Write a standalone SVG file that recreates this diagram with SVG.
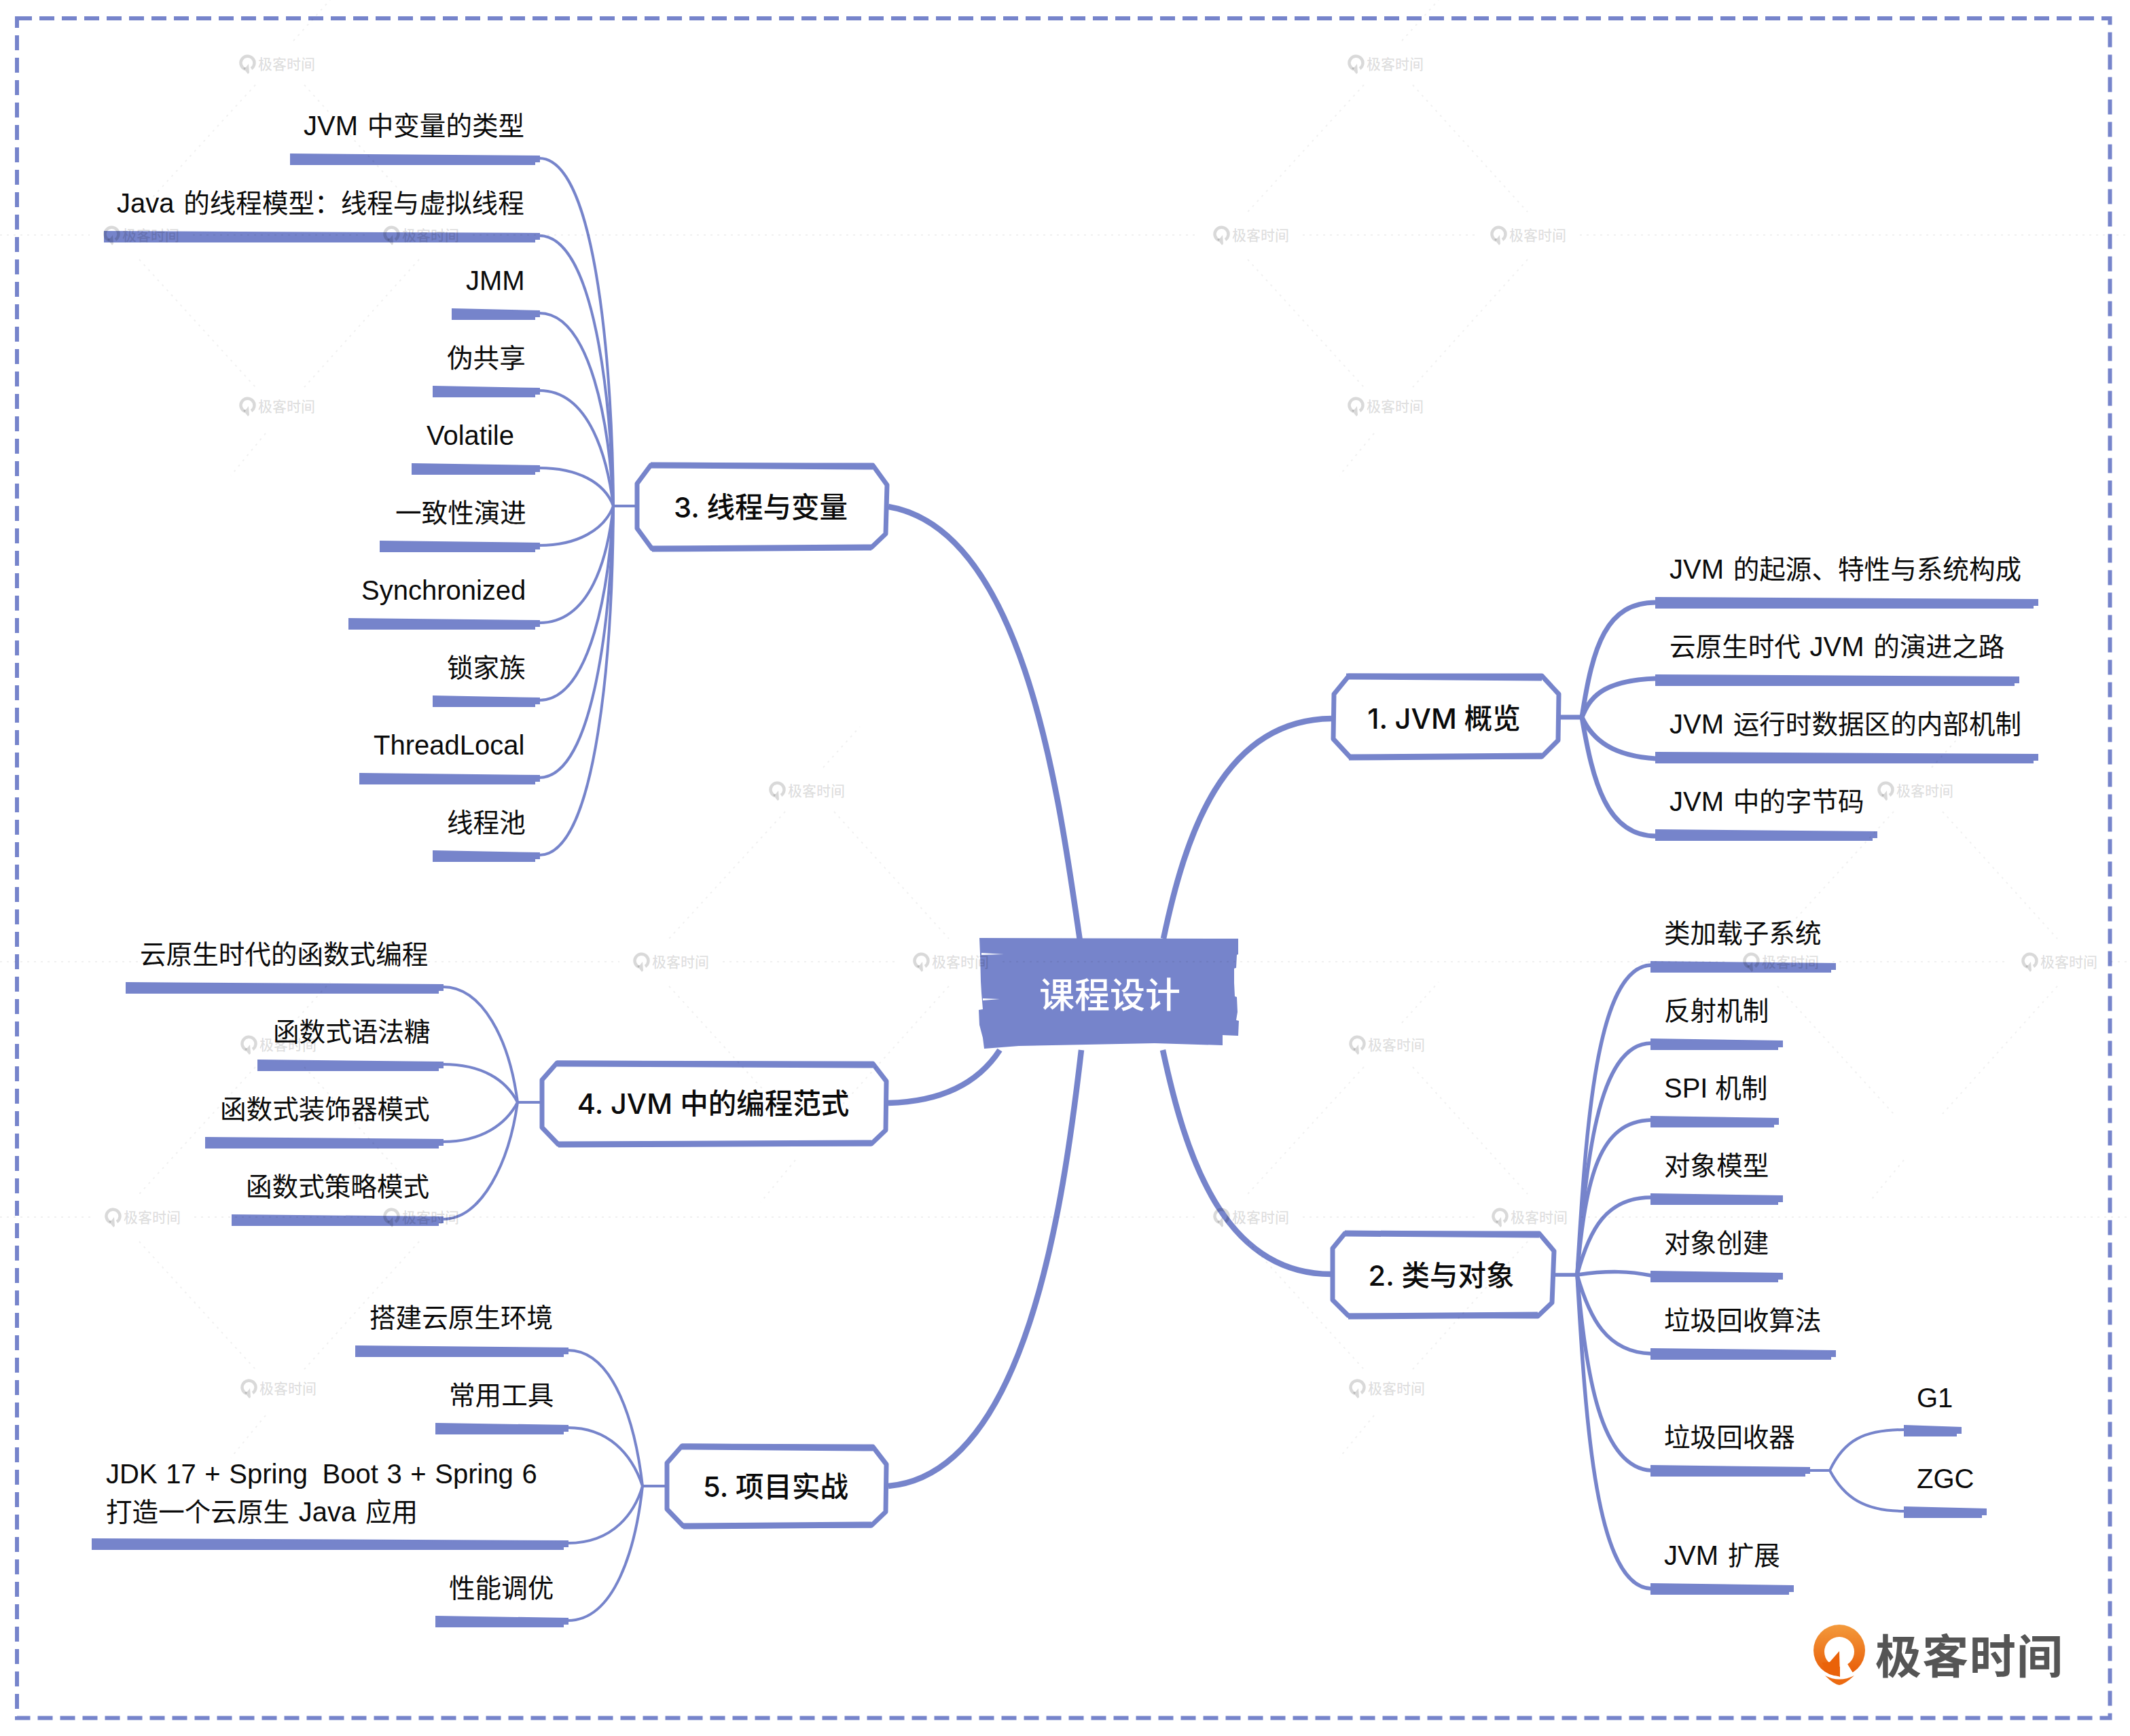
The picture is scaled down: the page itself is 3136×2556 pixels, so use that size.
<svg xmlns="http://www.w3.org/2000/svg" width="3136" height="2556" viewBox="0 0 3136 2556">
<style>
.bg{fill:#fff}
.bar{fill:#7684cb;stroke:#7684cb;stroke-width:2;transform:translateY(1px)}
.t{font-family:"Liberation Sans","Noto Sans CJK SC",sans-serif;font-size:38.600px;fill:#0a0a0a;word-spacing:3px;transform:translateY(2px)}
.l{font-size:40px}
.h{font-family:"Inter","Noto Sans CJK SC",sans-serif;font-size:41.500px;font-weight:500;fill:#0a0a0a;text-anchor:middle}
.c{fill:none;stroke:#7684cb;stroke-linecap:round}
.thin{stroke-width:4}
.mid{stroke-width:5.500}
.thick{stroke-width:7}
.main{stroke-width:8.500;stroke-linecap:butt}
.box{fill:#fff;stroke:#7684cb;stroke-width:7;stroke-linejoin:round}
.band{fill:none;stroke:#7684cb;stroke-width:9}
.wl{stroke:#000;stroke-opacity:.06;stroke-width:2;stroke-dasharray:3 7;fill:none}
.wt{font-family:"Noto Sans CJK SC",sans-serif;font-size:21px;font-weight:500;fill:#000;fill-opacity:.15}
.wi{fill:none;stroke:#000;stroke-opacity:.15;stroke-width:4.500}
</style>
<defs>
<linearGradient id="og" x1="0" y1="0" x2="0" y2="1"><stop offset="0" stop-color="#f39a3c"/><stop offset="1" stop-color="#e85a05"/></linearGradient>
<g id="wm"><path class="wi" d="M-47,8 A10,10 0 1 1 -38,7"/><path d="M-50,6 L-43,15 L-41,13 L-42,0 L-46,5 Z" fill="#000" fill-opacity=".15"/><text class="wt" x="-28" y="8">极客时间</text></g>
<g id="tile">
<path class="wl" d="M-32,-221 L-203,-34 M40,-221 L209,-34 M-203,36 L-32,224 M209,36 L40,224 M24,-286 L78,-346 M-17,292 L-68,354"/>
</g>
</defs>
<rect class="bg" width="3136" height="2556"/>
<rect id="frame" x="25" y="27" width="3081.500" height="2502.500" fill="none" stroke="#7684cb" stroke-width="6" stroke-dasharray="22 11"/>

<g id="connectors">
<path class="c main" d="M1590,1385 C1560,1180 1510,780 1308,746"/>
<path class="c main" d="M1713,1382 C1745,1230 1800,1060 1960,1058"/>
<path class="c main" d="M1712,1546 C1745,1700 1800,1876 1960,1876"/>
<path class="c main" d="M1592,1546 C1565,1780 1510,2170 1308,2188"/>
<path class="c main" d="M1472,1546 C1440,1595 1385,1622 1308,1624"/>

<path class="c thin" d="M936,745 L903,745"/>
<path class="c thin" d="M903,745 C902,560 880,233 794,233"/>
<path class="c thin" d="M903,745 C900,590 875,347 794,347"/>
<path class="c thin" d="M903,745 C898,630 870,461 794,461"/>
<path class="c thin" d="M903,745 C895,680 870,575 794,575"/>
<path class="c thin" d="M903,745 C890,710 850,689 794,689"/>
<path class="c thin" d="M903,745 C890,780 850,803 794,803"/>
<path class="c thin" d="M903,745 C895,820 870,917 794,917"/>
<path class="c thin" d="M903,745 C898,860 870,1031 794,1031"/>
<path class="c thin" d="M903,745 C900,900 875,1145 794,1145"/>
<path class="c thin" d="M903,745 C902,950 880,1259 794,1259"/>

<path class="c thin" d="M796,1623 L762,1623"/>
<path class="c thin" d="M762,1623 C750,1530 710,1453 652,1453"/>
<path class="c thin" d="M762,1623 C745,1590 710,1567 652,1567"/>
<path class="c thin" d="M762,1623 C745,1655 710,1681 652,1681"/>
<path class="c thin" d="M762,1623 C750,1710 710,1795 652,1795"/>

<path class="c thin" d="M980,2188 L946,2188"/>
<path class="c thin" d="M946,2188 C936,2100 905,1988 836,1988"/>
<path class="c thin" d="M946,2188 C930,2140 895,2102 836,2102"/>
<path class="c thin" d="M946,2188 C935,2225 905,2272 836,2272"/>
<path class="c thin" d="M946,2188 C936,2280 905,2386 836,2386"/>

<path class="c thick" d="M2298,1056 L2329,1056"/>
<path class="c thick" d="M2329,1056 C2345,950 2365,887 2438,887"/>
<path class="c thick" d="M2329,1056 C2340,1030 2355,1002 2438,999"/>
<path class="c thick" d="M2329,1056 C2345,1090 2375,1113 2438,1117"/>
<path class="c thick" d="M2329,1056 C2345,1150 2365,1231 2438,1231"/>

<path class="c mid" d="M2290,1877 L2322,1877"/>
<path class="c mid" d="M2322,1877 C2335,1660 2350,1423 2431,1421"/>
<path class="c mid" d="M2322,1877 C2335,1720 2350,1536 2431,1536"/>
<path class="c mid" d="M2322,1877 C2335,1730 2355,1651 2431,1649"/>
<path class="c mid" d="M2322,1877 C2340,1810 2365,1763 2431,1763"/>
<path class="c mid" d="M2322,1877 C2370,1870 2400,1872 2431,1878"/>
<path class="c mid" d="M2322,1877 C2340,1940 2365,1991 2431,1993"/>
<path class="c mid" d="M2322,1877 C2335,2020 2355,2161 2431,2165"/>
<path class="c mid" d="M2322,1877 C2335,2100 2350,2337 2431,2339"/>

<path class="c thin" d="M2664,2165 L2694,2165"/>
<path class="c thin" d="M2694,2165 C2715,2120 2745,2105 2804,2105"/>
<path class="c thin" d="M2694,2165 C2715,2205 2745,2225 2804,2225"/>
</g>

<g id="root">
<path d="M1442,1381 L1823,1382 L1823,1405 L1821,1406 L1820,1425 L1817,1426 L1817,1447 L1818,1467 L1821,1468 L1822,1490 L1820,1502 L1824,1503 L1823,1525 L1800,1524 L1800,1539 L1700,1536 L1500,1540 L1449,1544 L1447,1528 L1442,1509 L1441,1487 L1447,1486 L1445,1462 L1444,1445 L1443,1405 Z" fill="#7684cb"/>
<path d="M1445,1403 L1478,1405 L1445,1406 Z M1447,1470 L1472,1471 L1447,1473 Z" fill="#fff"/>
<text x="1530" y="1484" font-family="'Noto Sans CJK SC',sans-serif" font-size="52" font-weight="500" fill="#fff">课程设计</text>
</g>

<g id="topic1">
<path class="box" d="M1986,995 L2270,995 L2295,1022 L2294,1090 L2270,1114 L1988,1115 L1963,1088 L1964,1022 Z"/>
<path class="band" d="M1982,996 L2270,998 M1986,1115 L2270,1113"/>
<text class="h" x="2126" y="1073">1. JVM 概览</text>
</g>
<g id="topic2">
<path class="box" d="M1980,1816 L2266,1816 L2288,1842 L2285,1918 L2264,1938 L1985,1937 L1962,1914 L1962,1838 Z"/>
<path class="band" d="M1980,1816 L2266,1818 M1985,1938 L2264,1936"/>
<text class="h" x="2122" y="1893">2. 类与对象</text>
</g>
<g id="topic3">
<path class="box" d="M958,685 L1285,685 L1306,714 L1304,786 L1283,806 L960,808 L938,778 L938,712 Z"/>
<path class="band" d="M958,685 L1285,687 M960,808 L1283,806"/>
<text class="h" x="1120" y="762">3. 线程与变量</text>
</g>
<g id="topic4">
<path class="box" d="M820,1565 L1285,1566 L1305,1592 L1304,1664 L1283,1684 L822,1685 L798,1660 L798,1590 Z"/>
<path class="band" d="M820,1566 L1285,1568 M822,1685 L1283,1683"/>
<text class="h" x="1050" y="1640">4. JVM 中的编程范式</text>
</g>
<g id="topic5">
<path class="box" d="M1004,2129 L1285,2130 L1305,2156 L1304,2226 L1283,2246 L1006,2247 L982,2222 L982,2154 Z"/>
<path class="band" d="M1004,2130 L1285,2132 M1006,2247 L1283,2245"/>
<text class="h" x="1142" y="2204">5. 项目实战</text>
</g>

<g id="t3-1"><polygon class="bar" points="428,226 794,229 794,237 787,237 787,241 428,241"/><text class="t" x="447" y="197"><tspan class="l">JVM</tspan> 中变量的类型</text></g>
<g id="t3-2"><polygon class="bar" points="154,340 794,343 794,351 787,351 787,355 154,355"/><text class="t" x="172" y="311"><tspan class="l">Java</tspan> 的线程模型：线程与虚拟线程</text></g>
<g id="t3-3"><polygon class="bar" points="666,454 794,457 794,465 787,465 787,469 666,469"/><text class="t l" x="686" y="425">JMM</text></g>
<g id="t3-4"><polygon class="bar" points="638,568 794,571 794,579 787,579 787,583 638,583"/><text class="t" x="658" y="539">伪共享</text></g>
<g id="t3-5"><polygon class="bar" points="607,682 794,685 794,693 787,693 787,697 607,697"/><text class="t l" x="628" y="653">Volatile</text></g>
<g id="t3-6"><polygon class="bar" points="560,796 794,799 794,807 787,807 787,811 560,811"/><text class="t" x="582" y="767">一致性演进</text></g>
<g id="t3-7"><polygon class="bar" points="514,910 794,913 794,921 787,921 787,925 514,925"/><text class="t l" x="532" y="881">Synchronized</text></g>
<g id="t3-8"><polygon class="bar" points="638,1024 794,1027 794,1035 787,1035 787,1039 638,1039"/><text class="t" x="658" y="995">锁家族</text></g>
<g id="t3-9"><polygon class="bar" points="530,1138 794,1141 794,1149 787,1149 787,1153 530,1153"/><text class="t l" x="550" y="1109">ThreadLocal</text></g>
<g id="t3-10"><polygon class="bar" points="638,1252 794,1255 794,1263 787,1263 787,1267 638,1267"/><text class="t" x="658" y="1223">线程池</text></g>

<g id="t4-1"><polygon class="bar" points="186,1446 652,1449 652,1457 645,1457 645,1461 186,1461"/><text class="t" x="206" y="1417">云原生时代的函数式编程</text></g>
<g id="t4-2"><polygon class="bar" points="380,1560 652,1563 652,1571 645,1571 645,1575 380,1575"/><text class="t" x="402" y="1531">函数式语法糖</text></g>
<g id="t4-3"><polygon class="bar" points="303,1674 652,1677 652,1685 645,1685 645,1689 303,1689"/><text class="t" x="324" y="1645">函数式装饰器模式</text></g>
<g id="t4-4"><polygon class="bar" points="342,1788 652,1791 652,1799 645,1799 645,1803 342,1803"/><text class="t" x="362" y="1759">函数式策略模式</text></g>

<g id="t5-1"><polygon class="bar" points="524,1981 836,1984 836,1992 829,1992 829,1996 524,1996"/><text class="t" x="544" y="1952">搭建云原生环境</text></g>
<g id="t5-2"><polygon class="bar" points="642,2095 836,2098 836,2106 829,2106 829,2110 642,2110"/><text class="t" x="661" y="2066">常用工具</text></g>
<g id="t5-3"><polygon class="bar" points="136,2265 836,2268 836,2276 829,2276 829,2280 136,2280"/><text class="t l" x="156" y="2182" style="word-spacing:1.500px">JDK 17 + Spring <tspan dx="9">Boot</tspan> 3 + Spring 6</text><text class="t" x="156" y="2238">打造一个云原生 <tspan class="l">Java</tspan> 应用</text></g>
<g id="t5-4"><polygon class="bar" points="642,2379 836,2382 836,2390 829,2390 829,2394 642,2394"/><text class="t" x="661" y="2350">性能调优</text></g>

<g id="t1-1" transform="translate(0,2)"><polygon class="bar" points="2438,877 3000,880 3000,888 2993,888 2993,892 2438,892"/><text class="t" x="2458" y="848"><tspan class="l">JVM</tspan> 的起源、特性与系统构成</text></g>
<g id="t1-2" transform="translate(0,2)"><polygon class="bar" points="2438,991 2972,994 2972,1002 2965,1002 2965,1006 2438,1006"/><text class="t" x="2458" y="962">云原生时代 <tspan class="l">JVM</tspan> 的演进之路</text></g>
<g id="t1-3" transform="translate(0,2)"><polygon class="bar" points="2438,1105 3000,1108 3000,1116 2993,1116 2993,1120 2438,1120"/><text class="t" x="2458" y="1076"><tspan class="l">JVM</tspan> 运行时数据区的内部机制</text></g>
<g id="t1-4" transform="translate(0,2)"><polygon class="bar" points="2438,1219 2763,1222 2763,1230 2756,1230 2756,1234 2438,1234"/><text class="t" x="2458" y="1190"><tspan class="l">JVM</tspan> 中的字节码</text></g>

<g id="t2-1"><polygon class="bar" points="2431,1415 2702,1418 2702,1426 2695,1426 2695,1430 2431,1430"/><text class="t" x="2450" y="1386">类加载子系统</text></g>
<g id="t2-2"><polygon class="bar" points="2431,1529 2624,1532 2624,1540 2617,1540 2617,1544 2431,1544"/><text class="t" x="2450" y="1500">反射机制</text></g>
<g id="t2-3"><polygon class="bar" points="2431,1643 2618,1646 2618,1654 2611,1654 2611,1658 2431,1658"/><text class="t" x="2450" y="1614" style="word-spacing:0"><tspan class="l">SPI</tspan> 机制</text></g>
<g id="t2-4"><polygon class="bar" points="2431,1757 2624,1760 2624,1768 2617,1768 2617,1772 2431,1772"/><text class="t" x="2450" y="1728">对象模型</text></g>
<g id="t2-5"><polygon class="bar" points="2431,1871 2624,1874 2624,1882 2617,1882 2617,1886 2431,1886"/><text class="t" x="2450" y="1842">对象创建</text></g>
<g id="t2-6"><polygon class="bar" points="2431,1985 2702,1988 2702,1996 2695,1996 2695,2000 2431,2000"/><text class="t" x="2450" y="1956">垃圾回收算法</text></g>
<g id="t2-7"><polygon class="bar" points="2431,2157 2664,2160 2664,2168 2657,2168 2657,2172 2431,2172"/><text class="t" x="2450" y="2128">垃圾回收器</text></g>
<g id="t2-8"><polygon class="bar" points="2431,2331 2640,2334 2640,2342 2633,2342 2633,2346 2431,2346"/><text class="t" x="2450" y="2302"><tspan class="l">JVM</tspan> 扩展</text></g>
<g id="g1"><polygon class="bar" points="2804,2098 2887,2101 2887,2109 2880,2109 2880,2113 2804,2113"/><text class="t l" x="2822" y="2070">G1</text></g>
<g id="zgc"><polygon class="bar" points="2804,2218 2924,2221 2924,2229 2917,2229 2917,2233 2804,2233"/><text class="t l" x="2822" y="2189">ZGC</text></g>

<g id="logo">
<circle cx="2708" cy="2430" r="38" fill="url(#og)"/>
<circle cx="2708" cy="2432" r="22" fill="#fff"/>
<path d="M2709,2445 L2720,2450 L2728,2463 L2725,2475 L2700,2475 L2709,2469 Z" fill="#fff"/>
<path d="M2694,2447 L2708,2431 L2709,2469 L2690,2462 L2682,2448 Z" fill="#ea6209"/>
<path d="M2687,2467 Q2708,2478 2730,2467 Q2716,2480 2708,2481 Q2700,2480 2687,2467 Z" fill="#ec6a10"/>
<text x="2761" y="2464" font-family="'Noto Sans CJK SC',sans-serif" font-size="68" font-weight="700" fill="#555" textLength="276">极客时间</text>
</g>

<g id="watermarks">
<path class="wl" d="M0,346 L132,346 M284,346 L544,346 M696,346 L1766,346 M1918,346 L2174,346 M2326,346 L3136,346 M0,1416 L912,1416 M1064,1416 L1324,1416 M1476,1416 L2546,1416 M2698,1416 L2956,1416 M3108,1416 L3136,1416 M0,1792 L134,1792 M286,1792 L544,1792 M696,1792 L1766,1792 M1918,1792 L2176,1792 M2328,1792 L3136,1792"/>
<use href="#tile" x="408" y="346"/><use href="#tile" x="2040" y="346"/><use href="#tile" x="1188" y="1416"/><use href="#tile" x="2820" y="1416"/><use href="#tile" x="408" y="1792"/><use href="#tile" x="2040" y="1792"/>
<use href="#wm" x="408" y="94"/><use href="#wm" x="208" y="346"/><use href="#wm" x="620" y="346"/><use href="#wm" x="408" y="598"/>
<use href="#wm" x="2040" y="94"/><use href="#wm" x="1842" y="346"/><use href="#wm" x="2250" y="346"/><use href="#wm" x="2040" y="598"/>
<use href="#wm" x="1188" y="1164"/><use href="#wm" x="2820" y="1164"/><use href="#wm" x="988" y="1416"/><use href="#wm" x="1400" y="1416"/><use href="#wm" x="2622" y="1416"/><use href="#wm" x="3032" y="1416"/>
<use href="#wm" x="410" y="1538"/><use href="#wm" x="2042" y="1538"/><use href="#wm" x="210" y="1792"/><use href="#wm" x="620" y="1792"/><use href="#wm" x="1842" y="1792"/><use href="#wm" x="2252" y="1792"/><use href="#wm" x="410" y="2044"/><use href="#wm" x="2042" y="2044"/>
</g>
</svg>
